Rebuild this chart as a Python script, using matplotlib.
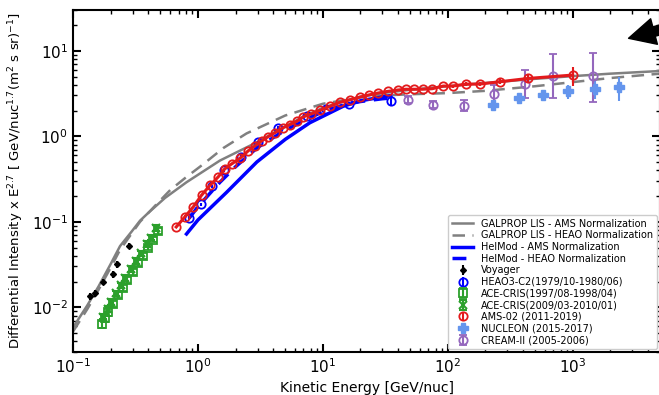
import numpy as np
import matplotlib.pyplot as plt

# GALPROP LIS curves
gal_ams_E = [0.1, 0.13, 0.16, 0.2, 0.238, 0.295, 0.344, 0.4, 0.545, 0.81, 1.5, 2.96, 5,
             7, 10, 15, 20, 30, 50, 100, 200, 500, 1000, 2000, 5000]
gal_ams_F = [0.0058, 0.0105, 0.0175, 0.032, 0.052, 0.077, 0.103, 0.127, 0.19, 0.29,
             0.52, 0.85, 1.3, 1.7, 2.15, 2.6, 2.9, 3.2, 3.5, 3.85, 4.2, 4.7, 5.05, 5.4, 5.8]
gal_heao_E = [0.1, 0.13, 0.16, 0.2, 0.238, 0.295, 0.344, 0.45, 0.6, 0.8, 1.1, 1.6, 2.45,
              5, 10, 20, 30, 50, 100, 200, 500, 1000, 2000, 5000]
gal_heao_F = [0.0052, 0.0095, 0.016, 0.029, 0.047, 0.073, 0.1, 0.152, 0.235, 0.33, 0.47,
              0.73, 1.08, 1.75, 2.4, 2.85, 3.0, 3.1, 3.2, 3.4, 3.85, 4.3, 4.8, 5.4]

# HelMod modulated spectra
helmod_ams_E = [0.81, 1.0, 1.69, 2.96, 5.0, 7.87, 14.5, 20, 35]
helmod_ams_F = [0.072, 0.105, 0.22, 0.50, 0.92, 1.44, 2.24, 2.6, 3.0]
helmod_heao_E = [0.85, 1.0, 1.5, 2.0, 3.0, 5.0, 10, 15, 20, 30, 35]
helmod_heao_F = [0.11, 0.15, 0.29, 0.44, 0.74, 1.18, 1.95, 2.35, 2.55, 2.75, 2.8]

# data sets
voy_E = [0.137, 0.150, 0.175, 0.21, 0.226, 0.282]
voy_F = [0.0135, 0.0146, 0.0198, 0.0245, 0.032, 0.052]
voy_err = [0.0012, 0.0013, 0.0018, 0.0022, 0.003, 0.0045]

heao_E = [0.85, 1.05, 1.3, 1.62, 2.2, 3.0, 4.4, 7.5, 10.6, 16.2, 35]
heao_F = [0.11, 0.16, 0.26, 0.40, 0.58, 0.85, 1.26, 1.75, 2.1, 2.4, 2.6]
heao_err = [0.006, 0.008, 0.012, 0.018, 0.025, 0.035, 0.05, 0.07, 0.09, 0.12, 0.35]

ace97_E = [0.17, 0.18, 0.19, 0.21, 0.23, 0.25, 0.27, 0.30, 0.33, 0.36, 0.40, 0.44, 0.48]
ace97_F = [0.0064, 0.0075, 0.0088, 0.011, 0.014, 0.017, 0.021, 0.026, 0.033, 0.040,
           0.050, 0.062, 0.078]
ace97_err = [0.0006, 0.0007, 0.0008, 0.001, 0.0012, 0.0014, 0.0017, 0.002, 0.0025,
             0.003, 0.0037, 0.0045, 0.0055]

ace09_E = [0.175, 0.19, 0.2, 0.22, 0.24, 0.26, 0.29, 0.32, 0.35, 0.39, 0.42, 0.46]
ace09_F = [0.0078, 0.0095, 0.0115, 0.0145, 0.018, 0.022, 0.028, 0.035, 0.043, 0.055,
           0.065, 0.085]
ace09_err = [0.0006, 0.0008, 0.0009, 0.0011, 0.0014, 0.0017, 0.002, 0.0025, 0.003,
             0.004, 0.0045, 0.006]

ams_E = [0.67, 0.79, 0.92, 1.07, 1.25, 1.45, 1.64, 1.86, 2.17, 2.53, 2.86, 3.24, 3.65,
         4.13, 4.81, 5.44, 6.2, 7.0, 8.1, 9.5, 11.4, 13.6, 16.4, 19.7, 23.5, 27.5, 33,
         40, 46, 54, 63, 75, 92, 110, 140, 180, 260, 440, 1000]
ams_F = [0.087, 0.115, 0.150, 0.205, 0.267, 0.334, 0.416, 0.475, 0.553, 0.677, 0.773,
         0.883, 0.99, 1.10, 1.26, 1.37, 1.50, 1.69, 1.83, 2.01, 2.24, 2.49, 2.67, 2.87,
         3.05, 3.2, 3.35, 3.48, 3.55, 3.55, 3.55, 3.6, 3.87, 3.87, 4.08, 4.08, 4.34, 4.75, 5.2]
ams_err = [0.003, 0.004, 0.005, 0.006, 0.008, 0.01, 0.012, 0.013, 0.015, 0.018, 0.02,
           0.022, 0.025, 0.027, 0.03, 0.033, 0.036, 0.04, 0.045, 0.05, 0.055, 0.06, 0.065,
           0.07, 0.075, 0.08, 0.085, 0.09, 0.1, 0.1, 0.11, 0.12, 0.14, 0.15, 0.18, 0.2,
           0.3, 0.5, 1.3]

nuc_E = [230, 370, 580, 910, 1520, 2340]
nuc_F = [2.3, 2.8, 3.05, 3.35, 3.6, 3.8]
nuc_err = [0.25, 0.3, 0.35, 0.6, 0.9, 1.2]

cream_E = [48, 76, 135, 235, 415, 700, 1450]
cream_F = [2.67, 2.34, 2.28, 3.1, 4.05, 5.05, 5.05]
cream_lo = [0.25, 0.2, 0.3, 0.75, 1.25, 2.25, 2.5]
cream_hi = [0.3, 0.25, 0.35, 0.9, 1.85, 4.2, 4.3]

fig = plt.figure(figsize=(6.59, 3.95), dpi=100)
ax = fig.add_axes([0.1108, 0.1089, 0.8907, 0.8658])

ax.plot(gal_ams_E, gal_ams_F, color='gray', lw=1.8, label='GALPROP LIS - AMS Normalization')
ax.plot(gal_heao_E, gal_heao_F, color='gray', lw=1.8, ls=(0, (5, 3)),
        label='GALPROP LIS - HEAO Normalization')
ax.plot(helmod_ams_E, helmod_ams_F, color='blue', lw=2.5, label='HelMod - AMS Normalization')
ax.plot(helmod_heao_E, helmod_heao_F, color='blue', lw=2.5, ls=(0, (4, 2.5)),
        label='HelMod - HEAO Normalization')

ax.errorbar(voy_E, voy_F, yerr=voy_err, fmt='D', ms=3, color='black', label='Voyager')
ax.errorbar(heao_E, heao_F, yerr=heao_err, fmt='o', mfc='none', ms=6, mew=1.3,
            color='blue', label='HEAO3-C2(1979/10-1980/06)')
ax.errorbar(ace97_E, ace97_F, yerr=ace97_err, fmt='s', mfc='none', ms=5.5, mew=1.3,
            color='#2ca02c', capsize=3, label='ACE-CRIS(1997/08-1998/04)')
ax.errorbar(ace09_E, ace09_F, yerr=ace09_err, fmt='x', ms=6, mew=1.5,
            color='#2ca02c', capsize=3, label='ACE-CRIS(2009/03-2010/01)')
ax.plot(ams_E, ams_F, color='#e31a1c', lw=2.2, zorder=3)
ax.errorbar(ams_E, ams_F, yerr=ams_err, fmt='o', mfc='none', ms=6, mew=1.3,
            color='#e31a1c', label='AMS-02 (2011-2019)', zorder=4)
ax.errorbar(nuc_E, nuc_F, yerr=nuc_err, fmt='P', ms=7, color='#6495ed', lw=1.5,
            label='NUCLEON (2015-2017)')
ax.errorbar(cream_E, cream_F, yerr=[cream_lo, cream_hi], fmt='o', mfc='none', ms=6,
            mew=1.3, color='#9467bd', capsize=3, lw=1.5, label='CREAM-II (2005-2006)')

ax.annotate('', xy=(2800, 14), xytext=(20000, 30),
            arrowprops=dict(facecolor='black', edgecolor='black', width=7,
                            headwidth=19, headlength=19),
            annotation_clip=False)

ax.set_xscale('log')
ax.set_yscale('log')
ax.set_xlim(0.1, 5000)
ax.set_ylim(3e-3, 30)
ax.tick_params(which='both', direction='in', top=True, right=True, labelsize=11)
ax.tick_params(which='major', length=6, width=1.5)
ax.tick_params(which='minor', length=3, width=1)
for sp in ax.spines.values():
    sp.set_linewidth(1.5)
ax.set_xlabel('Kinetic Energy [GeV/nuc]', fontsize=10)
ax.set_ylabel(r'Differential Intensity x E$^{2.7}$ [ GeV/nuc$^{1.7}$(m$^2$ s sr)$^{-1}$]',
              fontsize=9.5)
ax.legend(loc='lower right', fontsize=7, framealpha=1, labelspacing=0.17,
          borderaxespad=0.3, handlelength=2.2)

fig.savefig('out.png', dpi=100)
